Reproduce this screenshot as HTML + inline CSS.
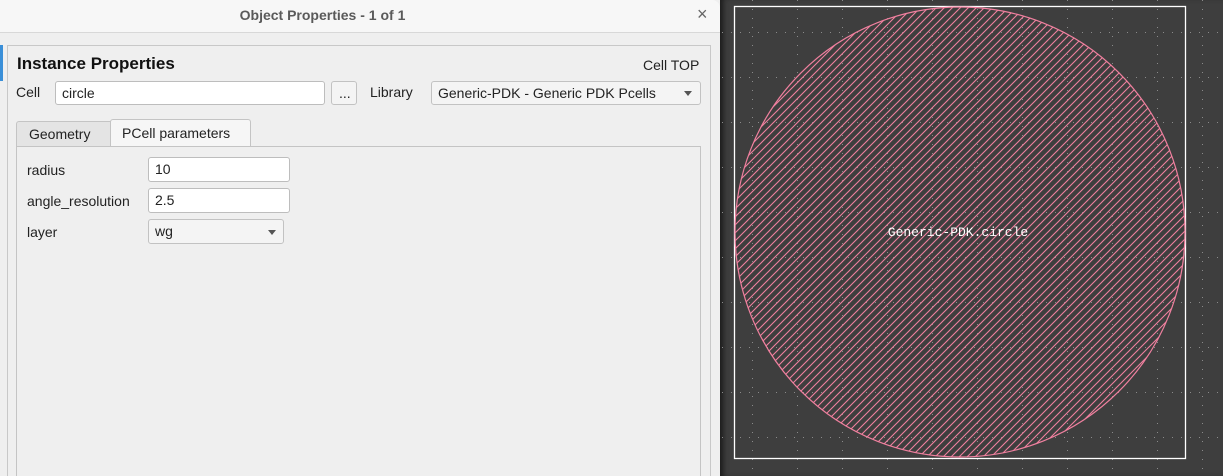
<!DOCTYPE html>
<html><head><meta charset="utf-8"><style>
*{margin:0;padding:0;box-sizing:border-box}
html,body{width:1223px;height:476px;overflow:hidden}
body{background:#efefef;font-family:"Liberation Sans",sans-serif;font-size:14px;color:#222;position:relative}
.a{position:absolute}
.inp{position:absolute;background:#fff;border:1px solid #bdbdbd;border-radius:3px;padding-left:6px;line-height:22px;font-size:14px}
.btn{position:absolute;background:#f4f4f4;border:1px solid #c2c2c2;border-radius:3px;font-size:14px;line-height:22px;padding-left:6px}
.arr{position:absolute;width:0;height:0;border-left:4px solid transparent;border-right:4px solid transparent;border-top:5px solid #555}
</style></head><body>
<div class="a" style="left:0;top:0;width:720px;height:33px;background:#f7f7f7;border-bottom:1px solid #d8d8d8;border-top-right-radius:8px"></div>
<div class="a" style="left:0;top:7px;width:645px;text-align:center;font-weight:bold;color:#5a5a5a;font-size:14px">Object Properties - 1 of 1</div>
<div class="a" style="left:697px;top:4px;font-size:18px;color:#666">×</div>
<div class="a" style="left:0;top:45px;width:3px;height:36px;background:#3a8fd8"></div>
<div class="a" style="left:7px;top:45px;width:704px;height:431px;border:1px solid #c8c8c8;border-bottom:none"></div>
<div class="a" style="left:17px;top:54px;font-weight:bold;font-size:17px;color:#111">Instance Properties</div>
<div class="a" style="left:643px;top:57px;font-size:14px">Cell TOP</div>
<div class="a" style="left:16px;top:84px">Cell</div>
<div class="inp" style="left:55px;top:81px;width:270px;height:24px">circle</div>
<div class="btn" style="left:331px;top:81px;width:26px;height:24px;padding-left:7px">...</div>
<div class="a" style="left:370px;top:84px">Library</div>
<div class="btn" style="left:431px;top:81px;width:270px;height:24px">Generic-PDK - Generic PDK Pcells</div>
<div class="arr" style="left:684px;top:91px"></div>
<div class="a" style="left:16px;top:121px;width:95px;height:26px;background:#e4e4e4;border:1px solid #c4c4c4;border-bottom:none;border-top-left-radius:3px"></div>
<div class="a" style="left:29px;top:126px">Geometry</div>
<div class="a" style="left:110px;top:119px;width:141px;height:28px;background:#f6f6f6;border:1px solid #c4c4c4;border-bottom:none;border-top-left-radius:3px;border-top-right-radius:3px"></div>
<div class="a" style="left:122px;top:125px">PCell parameters</div>
<div class="a" style="left:16px;top:146px;width:685px;height:330px;border:1px solid #c4c4c4;border-bottom:none"></div>
<div class="a" style="left:27px;top:162px">radius</div>
<div class="inp" style="left:148px;top:157px;width:142px;height:25px">10</div>
<div class="a" style="left:27px;top:193px">angle_resolution</div>
<div class="inp" style="left:148px;top:188px;width:142px;height:25px">2.5</div>
<div class="a" style="left:27px;top:224px">layer</div>
<div class="btn" style="left:148px;top:219px;width:136px;height:25px">wg</div>
<div class="arr" style="left:268px;top:230px"></div>
<div class="a" style="left:720px;top:0;width:503px;height:476px;background:#3e3e3e;box-shadow:inset 6px 0 6px -3px #1a1a1a"></div>
<svg class="a" style="left:0;top:0" width="1223" height="476">
<defs>
<pattern id="h" width="8" height="8" patternUnits="userSpaceOnUse">
<path d="M-2,2 L2,-2 M0,8 L8,0 M6,10 L10,6" stroke="#f0809f" stroke-width="1.1" fill="none"/>
</pattern>
</defs>
<g stroke="#8a8a8a" stroke-width="1" stroke-dasharray="1 8">
<line x1="752.5" y1="0" x2="752.5" y2="476"/><line x1="797.5" y1="0" x2="797.5" y2="476"/><line x1="842.5" y1="0" x2="842.5" y2="476"/><line x1="887.5" y1="0" x2="887.5" y2="476"/><line x1="932.5" y1="0" x2="932.5" y2="476"/><line x1="977.5" y1="0" x2="977.5" y2="476"/><line x1="1022.5" y1="0" x2="1022.5" y2="476"/><line x1="1067.5" y1="0" x2="1067.5" y2="476"/><line x1="1112.5" y1="0" x2="1112.5" y2="476"/><line x1="1157.5" y1="0" x2="1157.5" y2="476"/><line x1="1202.5" y1="0" x2="1202.5" y2="476"/>
<line x1="722" y1="32.5" x2="1223" y2="32.5"/><line x1="722" y1="77.5" x2="1223" y2="77.5"/><line x1="722" y1="122.5" x2="1223" y2="122.5"/><line x1="722" y1="167.5" x2="1223" y2="167.5"/><line x1="722" y1="212.5" x2="1223" y2="212.5"/><line x1="722" y1="257.5" x2="1223" y2="257.5"/><line x1="722" y1="302.5" x2="1223" y2="302.5"/><line x1="722" y1="347.5" x2="1223" y2="347.5"/><line x1="722" y1="392.5" x2="1223" y2="392.5"/><line x1="722" y1="437.5" x2="1223" y2="437.5"/>
</g>
<rect x="734.5" y="6.5" width="451" height="452" fill="none" stroke="#fff" stroke-width="1.3"/>
<circle cx="960" cy="232" r="225" fill="url(#h)" stroke="#f0809f" stroke-width="1.2"/>
<text x="958" y="236" fill="#fff" font-family="Liberation Mono, monospace" font-size="13" text-anchor="middle">Generic-PDK.circle</text>
</svg>
</body></html>
